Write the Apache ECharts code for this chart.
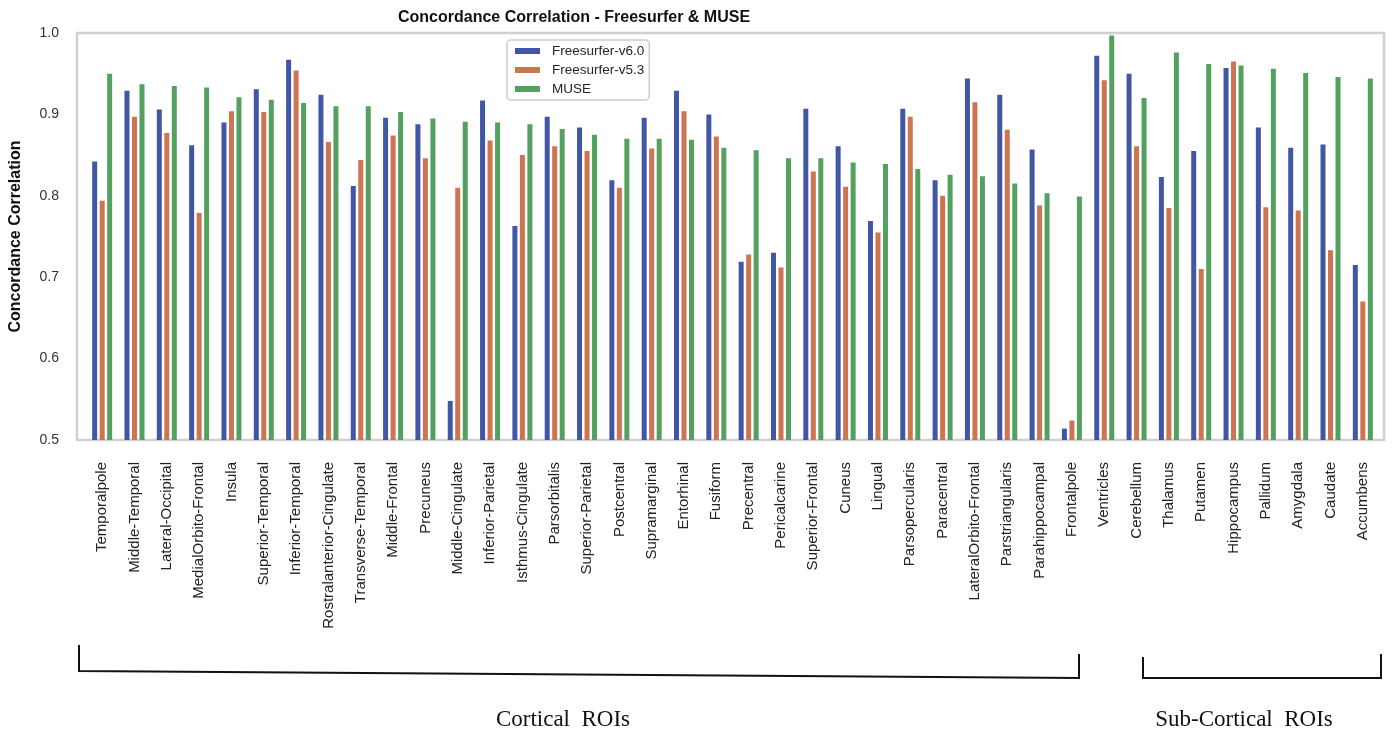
<!DOCTYPE html>
<html>
<head>
<meta charset="utf-8">
<title>Concordance Correlation - Freesurfer & MUSE</title>
<script src="https://cdn.jsdelivr.net/npm/echarts@6/dist/echarts.min.js"></script>
<style>
  html, body { margin: 0; padding: 0; background: #ffffff; }
  #chart { width: 1392px; height: 731px; }
</style>
</head>
<body>
<div id="chart"></div>
<script>
// Regions of interest, cortical first (ordered by MUSE), then sub-cortical
const regions = [
  'Temporalpole', 'Middle-Temporal', 'Lateral-Occipital', 'MedialOrbito-Frontal', 'Insula',
  'Superior-Temporal', 'Inferior-Temporal', 'Rostralanterior-Cingulate', 'Transverse-Temporal',
  'Middle-Frontal', 'Precuneus', 'Middle-Cingulate', 'Inferior-Parietal', 'Isthmus-Cingulate',
  'Parsorbitalis', 'Superior-Parietal', 'Postcentral', 'Supramarginal', 'Entorhinal', 'Fusiform',
  'Precentral', 'Pericalcarine', 'Superior-Frontal', 'Cuneus', 'Lingual', 'Parsopercularis',
  'Paracentral', 'LateralOrbito-Frontal', 'Parstriangularis', 'Parahippocampal', 'Frontalpole',
  'Ventricles', 'Cerebellum', 'Thalamus', 'Putamen', 'Hippocampus', 'Pallidum', 'Amygdala',
  'Caudate', 'Accumbens'
];

const freesurferV60 = [
  0.842, 0.929, 0.906, 0.862, 0.890, 0.931, 0.967, 0.924, 0.812, 0.896,
  0.888, 0.548, 0.917, 0.763, 0.897, 0.884, 0.819, 0.896, 0.929, 0.900,
  0.719, 0.730, 0.907, 0.861, 0.769, 0.907, 0.819, 0.944, 0.924, 0.857,
  0.514, 0.972, 0.950, 0.823, 0.855, 0.957, 0.884, 0.859, 0.863, 0.715
];

const freesurferV53 = [
  0.794, 0.897, 0.877, 0.779, 0.904, 0.903, 0.954, 0.866, 0.844, 0.874,
  0.846, 0.810, 0.868, 0.850, 0.861, 0.855, 0.810, 0.858, 0.904, 0.873,
  0.728, 0.712, 0.830, 0.811, 0.755, 0.897, 0.800, 0.915, 0.881, 0.788,
  0.524, 0.942, 0.861, 0.785, 0.710, 0.965, 0.786, 0.782, 0.733, 0.670
];

const museValues = [
  0.950, 0.937, 0.935, 0.933, 0.921, 0.918, 0.914, 0.910, 0.910, 0.903,
  0.895, 0.891, 0.890, 0.888, 0.882, 0.875, 0.870, 0.870, 0.869, 0.859,
  0.856, 0.846, 0.846, 0.841, 0.839, 0.833, 0.826, 0.824, 0.815, 0.803,
  0.799, 0.997, 0.920, 0.976, 0.962, 0.960, 0.956, 0.951, 0.946, 0.944
];

const seriesNames = ['Freesurfer-v6.0', 'Freesurfer-v5.3', 'MUSE'];
const seriesColors = ['#4256a6', '#cd7450', '#54a060'];

const yTicks = { min: 0.5, max: 1.0, step: 0.1 };

const chart = echarts.init(document.getElementById('chart'), null, { renderer: 'canvas' });

const sansFont = "'Liberation Sans', Arial, sans-serif";
const serifFont = "'Liberation Serif', 'Times New Roman', serif";

function barSeries(name, values, color) {
  return {
    name: name,
    type: 'bar',
    data: values,
    barWidth: 5,
    barGap: '50%',
    itemStyle: { color: color },
    emphasis: { disabled: true }
  };
}

const option = {
  animation: false,
  backgroundColor: '#ffffff',
  color: seriesColors,
  title: {
    text: 'Concordance Correlation - Freesurfer & MUSE',
    left: 398,
    top: 10,
    padding: 0,
    textStyle: { fontFamily: sansFont, fontSize: 16, fontWeight: 'bold', color: '#111111' }
  },
  legend: {
    data: seriesNames,
    orient: 'vertical',
    left: 507,
    top: 40,
    padding: [4, 5, 4, 8],
    itemGap: 5,
    itemWidth: 25,
    itemHeight: 6,
    icon: 'rect',
    backgroundColor: 'rgba(255,255,255,0.85)',
    borderColor: '#cccccc',
    borderWidth: 1.5,
    borderRadius: 4,
    textStyle: { fontFamily: sansFont, fontSize: 13.5, color: '#262626', padding: [0, 0, 0, 7] }
  },
  grid: {
    left: 81,
    right: 13,
    top: 33,
    bottom: 291,
    containLabel: false
  },
  xAxis: {
    type: 'category',
    data: regions,
    boundaryGap: true,
    axisLine: { show: false },
    axisTick: { show: false },
    splitLine: { show: false },
    axisLabel: {
      interval: 0,
      rotate: 90,
      margin: 22,
      fontFamily: sansFont,
      fontSize: 15,
      color: '#222222'
    }
  },
  yAxis: {
    type: 'value',
    min: yTicks.min,
    max: yTicks.max,
    interval: yTicks.step,
    name: 'Concordance Correlation',
    nameLocation: 'middle',
    nameRotate: 90,
    nameGap: 62,
    nameTextStyle: { fontFamily: sansFont, fontSize: 16, fontWeight: 'bold', color: '#111111' },
    axisLine: { show: false },
    axisTick: { show: false },
    splitLine: { show: false },
    axisLabel: {
      margin: 27,
      fontFamily: sansFont,
      fontSize: 14,
      color: '#333333',
      formatter: function (v) { return v.toFixed(1); }
    }
  },
  series: [
    barSeries(seriesNames[0], freesurferV60, seriesColors[0]),
    barSeries(seriesNames[1], freesurferV53, seriesColors[1]),
    barSeries(seriesNames[2], museValues, seriesColors[2])
  ],
  graphic: [
    // plot frame
    {
      type: 'rect',
      z: 0,
      silent: true,
      shape: { x: 77, y: 33, width: 1307, height: 407 },
      style: { fill: 'none', stroke: '#d0d0d0', lineWidth: 2.5 }
    },
    // bracket under the cortical regions
    {
      type: 'polyline',
      silent: true,
      shape: { points: [[79, 645], [79, 671], [1079, 678], [1079, 654]] },
      style: { fill: 'none', stroke: '#111111', lineWidth: 2 }
    },
    // bracket under the sub-cortical regions
    {
      type: 'polyline',
      silent: true,
      shape: { points: [[1143, 657], [1143, 678], [1381, 678], [1381, 654]] },
      style: { fill: 'none', stroke: '#111111', lineWidth: 2 }
    },
    {
      type: 'text',
      silent: true,
      x: 563,
      y: 720,
      style: {
        text: 'Cortical  ROIs',
        fontFamily: serifFont,
        fontSize: 23,
        fill: '#111111',
        textAlign: 'center',
        textVerticalAlign: 'middle'
      }
    },
    {
      type: 'text',
      silent: true,
      x: 1244,
      y: 720,
      style: {
        text: 'Sub-Cortical  ROIs',
        fontFamily: serifFont,
        fontSize: 23,
        fill: '#111111',
        textAlign: 'center',
        textVerticalAlign: 'middle'
      }
    }
  ]
};

chart.setOption(option);
</script>
</body>
</html>
